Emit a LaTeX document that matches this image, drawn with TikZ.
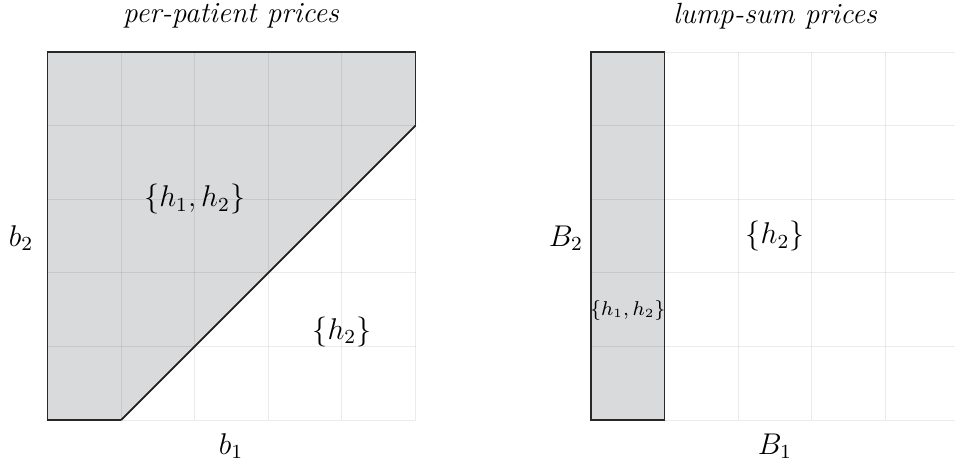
\documentclass[tikz,border=0pt]{standalone}
\begin{document}
\begin{tikzpicture}[x=0.4pt,y=-0.4pt,
  regionfill/.style={fill={rgb,255:red,217;green,218;blue,220}},
  gridline/.style={draw=black,draw opacity=0.08,line width=0.4pt},
  edge/.style={draw={rgb,255:red,40;green,40;blue,40},line width=0.45pt},
  bound/.style={draw={rgb,255:red,30;green,30;blue,30},line width=0.7pt},
  lbl/.style={font=\fontsize{11.6}{14}\selectfont,inner sep=0pt},
  ttl/.style={font=\fontsize{11.7}{14}\selectfont\itshape,inner sep=0pt},
  small/.style={font=\fontsize{7.6}{9}\selectfont,inner sep=0pt}]
\useasboundingbox (0,0) rectangle (955,463);
% ---------- left panel ----------
\begin{scope}[shift={(47.5,420)},x=29.44pt,y=29.44pt]
  \fill[regionfill] (0,0) -- (1,0) -- (5,4) -- (5,5) -- (0,5) -- cycle;
  \foreach \i in {0,...,5} {
    \draw[gridline] (\i,0) -- (\i,5);
    \draw[gridline] (0,\i) -- (5,\i);
  }
  \coordinate (l00) at (0,0);
  \coordinate (l10) at (1,0);
  \coordinate (l54) at (5,4);
  \coordinate (l55) at (5,5);
  \coordinate (l05) at (0,5);
  \draw[edge] (l10) -- (l00) -- (l05) -- (l55) -- (l54);
  \draw[bound] (l10) -- (l54);
  \node[lbl] (lh12) at (2,3) {$\{h_1,h_2\}$};
  \node[lbl] (lh2) at (4,1.2) {$\{h_2\}$};
\end{scope}
\node[ttl] (ltitle) at (231,16) {per-patient prices};
\node[lbl] (b2) at (21,238) {$b_2$};
\node[lbl] (b1) at (231,446) {$b_1$};
% ---------- right panel ----------
\begin{scope}[shift={(591,420)},x=29.44pt,y=29.44pt]
  \fill[regionfill] (0,0) rectangle (1,5);
  \foreach \i in {0,...,5} {
    \draw[gridline] (\i,0) -- (\i,5);
    \draw[gridline] (0,\i) -- (5,\i);
  }
  \coordinate (r00) at (0,0);
  \coordinate (r15) at (1,5);
  \draw[edge] (r00) rectangle (r15);
  \node[lbl] (rh2) at (2.5,2.5) {$\{h_2\}$};
  \node[small] (rh12) at (0.5,1.49) {$\{h_1,h_2\}$};
\end{scope}
\node[ttl] (rtitle) at (775,16) {lump-sum prices};
\node[lbl] (B2) at (566,238) {$B_2$};
\node[lbl] (B1) at (775,446) {$B_1$};
\end{tikzpicture}
\end{document}
